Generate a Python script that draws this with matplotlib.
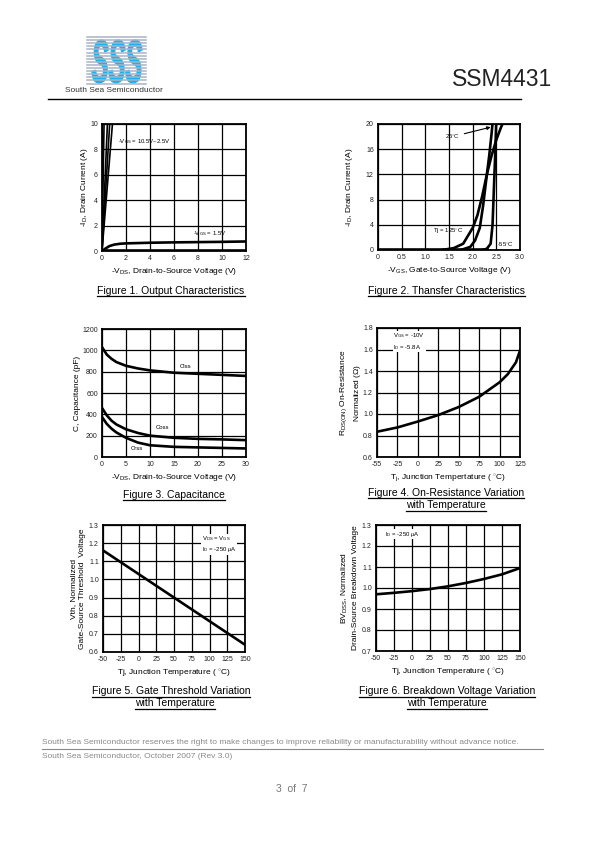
import matplotlib
matplotlib.use("Agg")
import matplotlib.pyplot as plt
from matplotlib.lines import Line2D
from matplotlib.textpath import TextPath
from matplotlib.patches import PathPatch
from matplotlib.font_manager import FontProperties
from matplotlib.transforms import Affine2D

plt.rcParams["font.family"] = ["Liberation Sans", "DejaVu Sans"]
plt.rcParams["mathtext.fontset"] = "custom"
plt.rcParams["mathtext.rm"] = "Liberation Sans"
plt.rcParams["mathtext.it"] = "Liberation Sans:italic"
plt.rcParams["mathtext.bf"] = "Liberation Sans:bold"
plt.rcParams["axes.unicode_minus"] = False

W, H = 595, 842

# Figure 1 - output characteristics
f1_steep_vds_at_10a = [0.17, 0.45, 0.64, 0.87]   # VGS 10.5V ~ 2.5V
f1_vds = [0, 0.3, 0.6, 1, 1.5, 2, 4, 6, 8, 10, 12]
f1_id_15v = [0, 0.2, 0.38, 0.5, 0.57, 0.6, 0.65, 0.68, 0.7, 0.72, 0.75]
f1_id_1v = [0, 0, 0, 0, 0, 0, 0, 0, 0, 0, 0]

# Figure 2 - transfer characteristics
f2_vgs_125 = [1.35, 1.6, 1.8, 2.0, 2.1, 2.2, 2.3, 2.4, 2.5, 2.6, 2.66]
f2_id_125 = [0, 0.3, 1.0, 3.5, 5.5, 8.5, 12, 15, 17.5, 19.5, 20.5]
f2_vgs_25 = [1.75, 1.95, 2.05, 2.15, 2.22, 2.3, 2.35, 2.4, 2.43]
f2_id_25 = [0, 0.5, 1.5, 3.5, 7, 12, 15, 18.5, 21]
f2_vgs_m55 = [2.2, 2.3, 2.38, 2.42, 2.45, 2.48, 2.5]
f2_id_m55 = [0, 0.2, 1, 4, 10, 16, 21]

# Figure 3 - capacitance
f3_vds = [0, 1, 2, 3, 5, 7.5, 10, 15, 20, 25, 30]
f3_ciss = [1030, 960, 920, 890, 855, 830, 812, 790, 780, 770, 760]
f3_coss = [460, 390, 340, 305, 260, 225, 200, 180, 170, 165, 158]
f3_crss = [375, 310, 265, 230, 180, 135, 110, 95, 90, 85, 80]

# Figure 4 - on-resistance vs temperature
f4_tj = [-50, -25, 0, 25, 50, 75, 100, 110, 120, 125]
f4_rds = [0.835, 0.875, 0.93, 0.99, 1.065, 1.16, 1.295, 1.37, 1.48, 1.59]
f4_xticks = [-50, -25, 0, 25, 50, 75, 100, 125]
f4_xlabels = ["-55", "-25", "0", "25", "50", "75", "100", "125"]

# Figure 5 - gate threshold vs temperature
f5_tj = [-50, 150]
f5_vth = [1.16, 0.64]

# Figure 6 - breakdown voltage vs temperature
f6_tj = [-50, -25, 0, 25, 50, 75, 100, 125, 150]
f6_bv = [0.97, 0.977, 0.985, 0.995, 1.008, 1.024, 1.043, 1.065, 1.095]

temp_ticks = [-50, -25, 0, 25, 50, 75, 100, 125, 150]

fig = plt.figure(figsize=(W / 100, H / 100), dpi=100)


def fx(x):
    return x / W


def fy(y):
    return 1 - y / H


def make_axes(x0, y0, x1, y1):
    ax = fig.add_axes([fx(x0), fy(y1), (x1 - x0) / W, (y1 - y0) / H])
    ax.grid(True, color="black", linewidth=0.9)
    ax.set_axisbelow(True)
    for s in ax.spines.values():
        s.set_linewidth(1.3)
    ax.tick_params(length=0, labelsize=5, pad=3, labelcolor="#222222")
    return ax


lw = 1.9
lab = 6.0
ann = 4.3

# ---- Figure 1
ax = make_axes(102, 124, 246, 251)
for xt in f1_steep_vds_at_10a:
    ax.plot([0, xt * 1.05], [0, 10.5], color="black", lw=1.2)
ax.plot(f1_vds, f1_id_15v, color="black", lw=lw)
ax.plot(f1_vds, f1_id_1v, color="black", lw=2.6)
ax.set_xlim(0, 12)
ax.set_ylim(0, 10)
ax.set_xticks(range(0, 13, 2))
ax.set_yticks(range(0, 11, 2))
ax.text(1.3, 8.6, "-V$_{\\mathrm{GS}}$ = 10.5V~2.5V", fontsize=ann, va="center")
ax.text(7.6, 1.4, "-V$_{\\mathrm{GS}}$ = 1.5V", fontsize=ann, va="center")
ax.set_xlabel("-V$_{\\mathrm{DS}}$, Drain-to-Source Voltage (V)", fontsize=lab, labelpad=3)
ax.set_ylabel("-I$_{\\mathrm{D}}$, Drain Current (A)", fontsize=lab, labelpad=0)

# ---- Figure 2
ax = make_axes(378, 124, 520, 250)
ax.plot(f2_vgs_125, f2_id_125, color="black", lw=lw)
ax.plot(f2_vgs_25, f2_id_25, color="black", lw=lw)
ax.plot(f2_vgs_m55, f2_id_m55, color="black", lw=lw)
ax.plot([0, 2.3], [0, 0], color="black", lw=2.6)
ax.set_xlim(0, 3)
ax.set_ylim(0, 20)
ax.set_xticks([0, 0.5, 1.0, 1.5, 2.0, 2.5, 3.0])
ax.set_xticklabels(["0", "0.5", "1.0", "1.5", "2.0", "2.5", "3.0"])
ax.set_yticks(range(0, 21, 4))
ax.annotate("25$^{\\circ}$C", xy=(2.38, 19.5), xytext=(1.42, 18.0), fontsize=ann,
            va="center", ha="left",
            arrowprops=dict(arrowstyle="-|>", color="black", lw=0.8, mutation_scale=5,
                            shrinkA=1, shrinkB=0))
ax.text(1.16, 2.9, "Tj = 125$^{\\circ}$C", fontsize=ann, va="center")
ax.text(2.52, 0.8, "-55$^{\\circ}$C", fontsize=ann, va="center")
ax.set_xlabel("-V$_{\\mathrm{GS}}$, Gate-to-Source Voltage (V)", fontsize=lab, labelpad=3)
ax.set_ylabel("-I$_{\\mathrm{D}}$, Drain Current (A)", fontsize=lab, labelpad=8)

# ---- Figure 3
ax = make_axes(102, 329, 246, 457)
ax.plot(f3_vds, f3_ciss, color="black", lw=lw)
ax.plot(f3_vds, f3_coss, color="black", lw=lw)
ax.plot(f3_vds, f3_crss, color="black", lw=lw)
ax.set_xlim(0, 30)
ax.set_ylim(0, 1200)
ax.set_xticks(range(0, 31, 5))
ax.set_yticks(range(0, 1201, 200))
ax.text(16.3, 844, "Ciss", fontsize=ann, va="center")
ax.text(11.2, 272, "Coss", fontsize=ann, va="center")
ax.text(6, 75, "Crss", fontsize=ann, va="center")
ax.set_xlabel("-V$_{\\mathrm{DS}}$, Drain-to-Source Voltage (V)", fontsize=lab, labelpad=3)
ax.set_ylabel("C, Capacitance (pF)", fontsize=lab, labelpad=1)

# ---- Figure 4
ax = make_axes(377, 328, 520, 457)
ax.plot(f4_tj, f4_rds, color="black", lw=lw)
ax.set_xlim(-50, 125)
ax.set_ylim(0.6, 1.8)
ax.set_xticks(f4_xticks)
ax.set_xticklabels(f4_xlabels)
ax.set_yticks([0.6, 0.8, 1.0, 1.2, 1.4, 1.6, 1.8])
ax.set_yticklabels(["0.6", "0.8", "1.0", "1.2", "1.4", "1.6", "1.8"])
ax.text(-30, 1.675, "V$_{\\mathrm{GS}}$ = -10V\nI$_{\\mathrm{D}}$ = -5.8A", fontsize=ann,
        va="center", linespacing=1.4,
        bbox=dict(facecolor="white", edgecolor="none", pad=0.5))
ax.set_xlabel("T$_{\\mathrm{j}}$, Junction Tempertature ( $^{\\circ}$C)", fontsize=lab, labelpad=3)
ax.set_ylabel("R$_{\\mathrm{DS(ON)}}$ On-Resistance\nNormalized ($\\Omega$)", fontsize=lab,
              labelpad=0, linespacing=1.45)

# ---- Figure 5
ax = make_axes(103, 525, 245, 652)
ax.plot(f5_tj, f5_vth, color="black", lw=lw)
ax.set_xlim(-50, 150)
ax.set_ylim(0.6, 1.3)
ax.set_xticks(temp_ticks)
ax.set_yticks([0.6, 0.7, 0.8, 0.9, 1.0, 1.1, 1.2, 1.3])
ax.set_yticklabels(["0.6", "0.7", "0.8", "0.9", "1.0", "1.1", "1.2", "1.3"])
ax.text(89, 1.193, "V$_{\\mathrm{DS}}$ = V$_{\\mathrm{GS}}$\nI$_{\\mathrm{D}}$ = -250 $\\mu$A",
        fontsize=ann, va="center", linespacing=1.3,
        bbox=dict(facecolor="white", edgecolor="none", pad=0.5))
ax.set_xlabel("Tj, Junction Temperature ( $^{\\circ}$C)", fontsize=lab, labelpad=3)
ax.set_ylabel("Vth, Normalized\nGate-Source Threshold  Voltage", fontsize=lab,
              labelpad=2, linespacing=1.45)

# ---- Figure 6
ax = make_axes(376, 525, 520, 651)
ax.plot(f6_tj, f6_bv, color="black", lw=lw)
ax.set_xlim(-50, 150)
ax.set_ylim(0.7, 1.3)
ax.set_xticks(temp_ticks)
ax.set_yticks([0.7, 0.8, 0.9, 1.0, 1.1, 1.2, 1.3])
ax.set_yticklabels(["0.7", "0.8", "0.9", "1.0", "1.1", "1.2", "1.3"])
ax.text(-38, 1.257, "I$_{\\mathrm{D}}$ = -250 $\\mu$A", fontsize=ann, va="center",
        bbox=dict(facecolor="white", edgecolor="none", pad=0.5))
ax.set_xlabel("Tj, Junction Temperature ( $^{\\circ}$C)", fontsize=lab, labelpad=3)
ax.set_ylabel("BV$_{\\mathrm{DSS}}$, Normalized\nDrain-Source Breakdown Voltage", fontsize=lab,
              labelpad=2, linespacing=1.45)

# ---- captions (underlined)
captions = [
    (171, 291, "Figure 1. Output Characteristics"),
    (446, 291, "Figure 2. Thansfer Characteristics"),
    (174, 495, "Figure 3. Capacitance"),
    (446, 493, "Figure 4. On-Resistance Variation"),
    (446, 505, "with Temperature"),
    (171, 691, "Figure 5. Gate Threshold Variation"),
    (175, 703, "with Temperature"),
    (447, 691, "Figure 6. Breakdown Voltage Variation"),
    (447, 703, "with Temperature"),
]
cap_texts = [fig.text(fx(x), fy(y), s, fontsize=7.5, ha="center", va="center")
             for x, y, s in captions]

# ---- header
for i in range(16):
    yy = 37 + i * 3.1
    fig.add_artist(Line2D([fx(87), fx(146)], [fy(yy), fy(yy)], color="#a9b3c6", lw=1.1))
logo = TextPath((0, 0), "SSS", size=10,
                prop=FontProperties(family="Liberation Sans", weight="bold", style="italic"))
lb = logo.get_extents()
sx = 50 / lb.width
sy = 43 / lb.height
tr = (Affine2D().translate(-lb.x0, -lb.y0).scale(sx / W, sy / H)
      .translate(fx(92), fy(83)) + fig.transFigure)
fig.add_artist(PathPatch(logo, transform=tr, facecolor="#1fb0ec", edgecolor="#1fb0ec",
                         lw=0.9))
fig.text(fx(114), fy(90), "South Sea Semiconductor", fontsize=6, ha="center",
         va="center", color="#333333")
fig.text(fx(552), fy(80), "SSM4431", fontsize=16.5, ha="right", va="center", color="#222222")
fig.add_artist(Line2D([fx(48), fx(521)], [fy(99), fy(99)], color="black", lw=1.0))

# ---- footer
fig.text(fx(42), fy(742), "South Sea Semiconductor reserves the right to make changes to "
         "improve reliability or manufacturability without advance notice.",
         fontsize=6.0, color="#8a8a8a", va="center")
fig.add_artist(Line2D([fx(42), fx(543)], [fy(749), fy(749)], color="#8a8a8a", lw=0.8))
fig.text(fx(42), fy(756), "South Sea Semiconductor, October 2007 (Rev 3.0)",
         fontsize=6.0, color="#8a8a8a", va="center")
fig.text(fx(292), fy(789), "3  of  7", fontsize=7.5, color="#777777", ha="center", va="center")

# underline captions using rendered extents
fig.canvas.draw()
r = fig.canvas.get_renderer()
for t in cap_texts:
    bb = t.get_window_extent(r)
    yl = (bb.y0 - 0.5) / fig.bbox.height
    fig.add_artist(Line2D([bb.x0 / fig.bbox.width, bb.x1 / fig.bbox.width], [yl, yl],
                          color="black", lw=0.9))

fig.savefig("out.png", dpi=100)
